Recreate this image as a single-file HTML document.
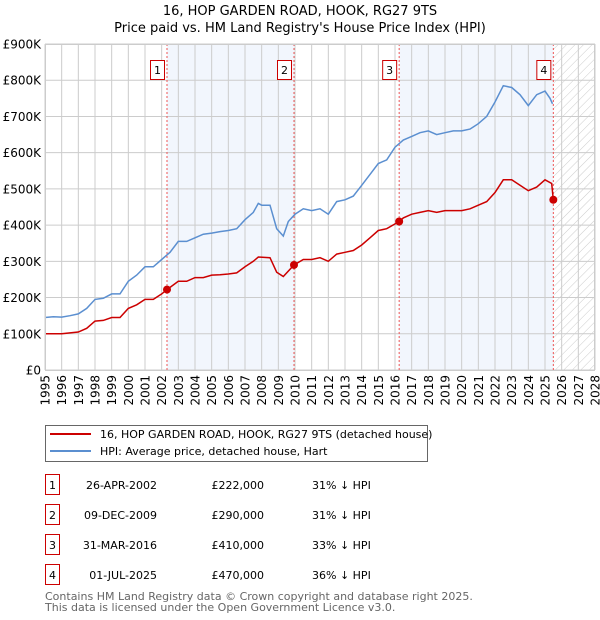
<!DOCTYPE html>
<html><head><meta charset="utf-8"><style>
body{margin:0;background:#fff;}
svg{display:block;font-family:"DejaVu Sans","Liberation Sans",sans-serif;}
</style></head><body>
<svg id="chart" width="600" height="620" viewBox="0 0 600 620" xmlns="http://www.w3.org/2000/svg">
<defs><pattern id="hatch" width="6" height="6" patternUnits="userSpaceOnUse" patternTransform="rotate(45)"><line x1="0" y1="0" x2="0" y2="6" stroke="#ccc" stroke-width="1"/></pattern></defs>
<text x="300" y="15" font-size="13" text-anchor="middle">16, HOP GARDEN ROAD, HOOK, RG27 9TS</text>
<text x="300" y="32" font-size="13" text-anchor="middle">Price paid vs. HM Land Registry's House Price Index (HPI)</text>
<g id="plot"></g>
<g>
<rect x="45.5" y="425.5" width="382" height="36" fill="#fff" stroke="#666"/>
<line x1="50" y1="434" x2="91" y2="434" stroke="#cc0000" stroke-width="2"/>
<text x="100" y="438" font-size="11">16, HOP GARDEN ROAD, HOOK, RG27 9TS (detached house)</text>
<line x1="50" y1="451" x2="91" y2="451" stroke="#5b8fd0" stroke-width="2"/>
<text x="100" y="455" font-size="11">HPI: Average price, detached house, Hart</text>
</g>
<g id="table" font-size="11"></g>
<text x="45" y="600" font-size="11" fill="#666">Contains HM Land Registry data © Crown copyright and database right 2025.</text>
<text x="45" y="611" font-size="11" fill="#666">This data is licensed under the Open Government Licence v3.0.</text>
</svg>
<script>
const hpiYears=[1995,1995.5,1996,1996.5,1997,1997.5,1998,1998.5,1999,1999.5,2000,2000.5,2001,2001.5,2002,2002.5,2003,2003.5,2004,2004.5,2005,2005.5,2006,2006.5,2007,2007.5,2007.8,2008,2008.5,2008.9,2009.3,2009.6,2010,2010.5,2011,2011.5,2012,2012.5,2013,2013.5,2014,2014.5,2015,2015.5,2016,2016.5,2017,2017.5,2018,2018.5,2019,2019.5,2020,2020.5,2021,2021.5,2022,2022.5,2023,2023.5,2024,2024.5,2025,2025.3,2025.45];
const hpiValues=[145,147,146,150,155,170,195,198,210,210,245,262,285,285,305,325,355,355,365,375,378,382,385,390,415,435,460,455,455,390,370,410,430,445,440,445,430,465,470,480,510,540,570,580,615,635,645,655,660,650,655,660,660,665,680,700,740,785,780,760,730,760,770,750,735];
const priceYears=[1995,1996,1997,1997.5,1998,1998.5,1999,1999.5,2000,2000.5,2001,2001.5,2002,2002.32,2003,2003.5,2004,2004.5,2005,2005.5,2006,2006.5,2007,2007.5,2007.8,2008.5,2008.9,2009.3,2009.94,2010.5,2011,2011.5,2012,2012.5,2013,2013.5,2014,2014.5,2015,2015.5,2016.25,2016.5,2017,2017.5,2018,2018.5,2019,2019.5,2020,2020.5,2021,2021.5,2022,2022.5,2023,2023.5,2024,2024.5,2025,2025.4,2025.5];
const priceValues=[100,100,105,115,135,137,145,145,170,180,195,195,210,222,245,245,255,255,262,263,265,268,285,300,312,310,270,258,290,305,305,310,300,320,325,330,345,365,385,390,410,420,430,435,440,435,440,440,440,445,455,465,490,525,525,510,495,505,525,515,470];
const saleLabels=["1","2","3","4"];
const saleYears=[2002.32,2009.94,2016.25,2025.5];
const saleValues=[222,290,410,470];
const saleDates=["26-APR-2002","09-DEC-2009","31-MAR-2016","01-JUL-2025"];
const salePrices=["£222,000","£290,000","£410,000","£470,000"];
const saleDiffs=["31% ↓ HPI","31% ↓ HPI","33% ↓ HPI","36% ↓ HPI"];
const yTicks=[0,100,200,300,400,500,600,700,800,900];
const yTickLabels=["£0","£100K","£200K","£300K","£400K","£500K","£600K","£700K","£800K","£900K"];
const xTicks=[1995,1996,1997,1998,1999,2000,2001,2002,2003,2004,2005,2006,2007,2008,2009,2010,2011,2012,2013,2014,2015,2016,2017,2018,2019,2020,2021,2022,2023,2024,2025,2026,2027,2028];

const NS="http://www.w3.org/2000/svg";
const L=45,R=595,T=44,B=370;
const x=v=>L+(v-1995)/(2028-1995)*(R-L);
const y=v=>B-v/900*(B-T);
function mk(tag,attrs,parent,text){const e=document.createElementNS(NS,tag);for(const k in attrs)e.setAttribute(k,attrs[k]);if(text!==undefined)e.textContent=text;parent.appendChild(e);return e;}
const g=document.getElementById('plot');
for(let i=0;i<4;i+=2){
  const r=mk('rect',{x:x(saleYears[i]),y:T,width:x(saleYears[i+1])-x(saleYears[i]),height:B-T,fill:'#eef3fc',opacity:0.75},g);
  
  
}
const hz=mk('rect',{x:x(saleYears[3]),y:T,width:R-x(saleYears[3]),height:B-T,fill:'url(#hatch)'},g);


xTicks.forEach(t=>{
  const l=mk('line',{x1:x(t),x2:x(t),y1:T,y2:B,stroke:'#ccc','stroke-width':1},g);
  
  
  const tx=mk('text',{x:0,y:0,'font-size':12,'text-anchor':'end',transform:`translate(${x(t)+4.5},${B+5}) rotate(-90)`},g,String(t));
  
  
});
yTicks.forEach((t,i)=>{
  const l=mk('line',{x1:L,x2:R,y1:y(t),y2:y(t),stroke:'#ccc','stroke-width':1},g);
  
  
  const tx=mk('text',{x:L-4,y:y(t)+4.5,'font-size':12,'text-anchor':'end'},g,yTickLabels[i]);
  
  
});
saleYears.forEach(s=>{
  const l=mk('line',{x1:x(s),x2:x(s),y1:T,y2:B,stroke:'#e55','stroke-width':1,'stroke-dasharray':'2,2'},g);
  
  
});
const hp=mk('path',{d:hpiYears.map((v,i)=>(i?'L':'M')+x(v).toFixed(1)+','+y(hpiValues[i]).toFixed(1)).join(''),fill:'none',stroke:'#5b8fd0','stroke-width':1.5},g);


const pp=mk('path',{d:priceYears.map((v,i)=>(i?'L':'M')+x(v).toFixed(1)+','+y(priceValues[i]).toFixed(1)).join(''),fill:'none',stroke:'#cc0000','stroke-width':1.5},g);


saleYears.forEach((s,i)=>{
  const c=mk('circle',{cx:x(s),cy:y(saleValues[i]),r:4,fill:'#cc0000'},g);
  
  
  const bx=x(s)-17;
  const r=mk('rect',{x:bx+0.5,y:60.5,width:14,height:19,fill:'#fff',stroke:'#cc0000'},g);
  
  
  const t=mk('text',{x:bx+7.5,y:74,'font-size':11,'text-anchor':'middle'},g,saleLabels[i]);
  
  
});
const ax=mk('rect',{x:L+0.5,y:T+0.5,width:R-L-1,height:B-T,fill:'none',stroke:'#ccc'},g);


const tb=document.getElementById('table');
saleLabels.forEach((lab,i)=>{
  const ty=483+i*30;
  const row=mk('g',{},tb);
  
  
  mk('rect',{x:45.5,y:ty-8.5,width:14,height:20,fill:'#fff',stroke:'#cc0000'},row);
  mk('text',{x:52.5,y:ty+6,'text-anchor':'middle'},row,lab);
  mk('text',{x:157,y:ty+6,'text-anchor':'end'},row,saleDates[i]);
  mk('text',{x:264,y:ty+6,'text-anchor':'end'},row,salePrices[i]);
  mk('text',{x:312,y:ty+6},row,saleDiffs[i]);
});
</script>
</body></html>
